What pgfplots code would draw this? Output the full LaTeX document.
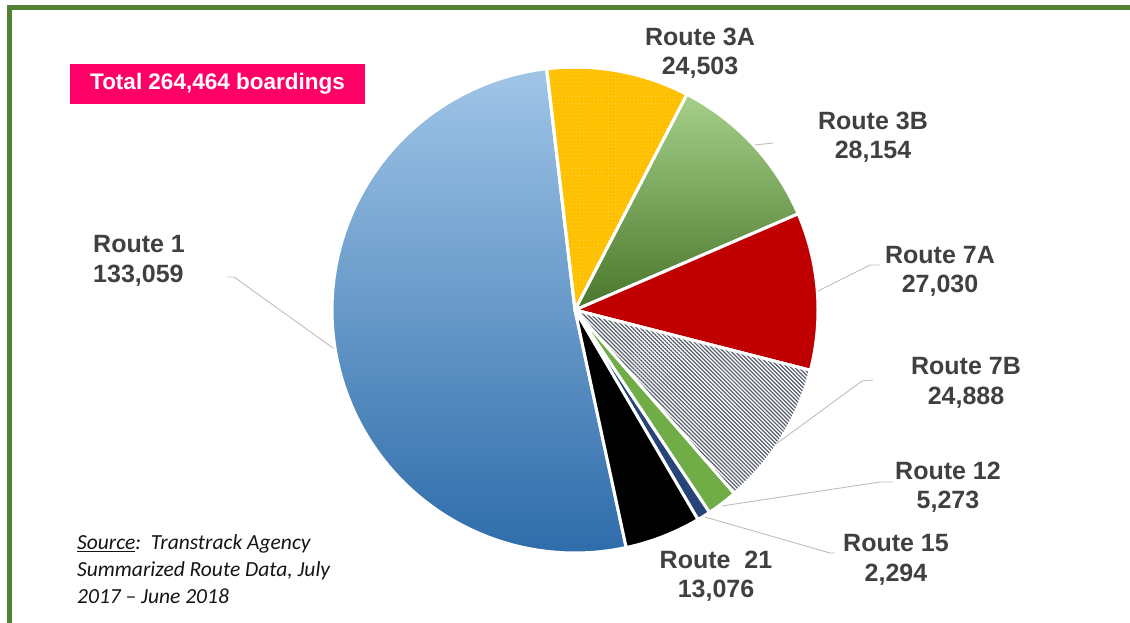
\documentclass[border=0pt]{standalone}
\usepackage{pgfplots}
\pgfplotsset{compat=1.18}
\usetikzlibrary{patterns,patterns.meta}
\usepackage{fontspec}
\setmainfont{Liberation Sans}
\newfontfamily\srcfont{Carlito}

\definecolor{frame}{RGB}{84,130,53}
\definecolor{boxpink}{RGB}{255,0,102}
\definecolor{lab}{RGB}{64,64,64}
\definecolor{bluetop}{RGB}{160,197,231}
\definecolor{bluemid}{RGB}{96,158,214}
\definecolor{bluebot}{RGB}{46,108,170}
\definecolor{greentop}{RGB}{166,208,138}
\definecolor{greenmid}{RGB}{116,175,74}
\definecolor{greenbot}{RGB}{72,118,42}
\definecolor{gold}{RGB}{255,192,0}
\definecolor{dotc}{RGB}{255,214,90}
\definecolor{redc}{RGB}{192,0,0}
\definecolor{green12}{RGB}{112,173,71}
\definecolor{navy}{RGB}{38,68,120}
\definecolor{hatch}{RGB}{84,92,106}
\definecolor{leader}{RGB}{190,190,190}

% boardings per route
\def\vOne{133059}
\def\vThreeA{24503}
\def\vThreeB{28154}
\def\vSevenA{27030}
\def\vSevenB{24888}
\def\vTwelve{5273}
\def\vFifteen{2294}
\def\vTwentyOne{13076}

\edef\tot{\fpeval{\vOne+\vThreeA+\vThreeB+\vSevenA+\vSevenB+\vTwelve+\vFifteen+\vTwentyOne}}
\def\aS{96.7}
\edef\aA{\fpeval{\aS-\vThreeA/\tot*360}}
\edef\aB{\fpeval{\aA-\vThreeB/\tot*360}}
\edef\aC{\fpeval{\aB-\vSevenA/\tot*360}}
\edef\aD{\fpeval{\aC-\vSevenB/\tot*360}}
\edef\aE{\fpeval{\aD-\vTwelve/\tot*360}}
\edef\aF{\fpeval{\aE-\vFifteen/\tot*360}}
\edef\aG{\fpeval{\aF-\vTwentyOne/\tot*360}}
\edef\aH{\fpeval{\aG+360}}

\newcommand\pieslice[3]{%
  \addplot[#3, domain=#1:#2, samples=90, variable=\t, draw=white,
    line width=3pt, line join=round]
    ({575+243*cos(\t)},{312+243*sin(\t)}) -- (axis cs:575,312) -- cycle;}

\newcommand\labfont{\fontsize{25}{29.5}\selectfont\bfseries}

\begin{document}
\begin{tikzpicture}
\clip (0,0) rectangle (1130pt,622pt);
\begin{axis}[
  at={(0,0)}, anchor=south west,
  width=1130pt, height=622pt, scale only axis,
  xmin=0, xmax=1130, ymin=0, ymax=622,
  hide axis, clip=false]

% frame
\addplot[frame, line width=5pt, no marks] coordinates {(9.5,-5) (9.5,614.5) (1135,614.5)};

% slices
\pieslice{\aS}{\aH}{top color=bluetop, middle color=bluemid, bottom color=bluebot}
\pieslice{\aA}{\aS}{fill=gold, postaction={pattern={Dots[distance=3.6pt, radius=0.55pt]}, pattern color=dotc}}
\pieslice{\aB}{\aA}{top color=greentop, middle color=greenmid, bottom color=greenbot}
\pieslice{\aC}{\aB}{fill=redc}
\pieslice{\aD}{\aC}{fill=white, postaction={pattern={Lines[angle=-45, distance=2.8pt, line width=1.2pt]}, pattern color=hatch}}
\pieslice{\aE}{\aD}{fill=green12}
\pieslice{\aF}{\aE}{fill=navy}
\pieslice{\aG}{\aF}{fill=black}

% leader lines
\addplot[leader, line width=0.9pt, no marks] coordinates {(227,345) (234,345) (333,274)};
\addplot[leader, line width=0.9pt, no marks] coordinates {(755,477) (773,479)};
\addplot[leader, line width=0.9pt, no marks] coordinates {(880,357) (870,357) (818,331)};
\addplot[leader, line width=0.9pt, no marks] coordinates {(873,242) (862,241) (776,178)};
\addplot[leader, line width=0.9pt, no marks] coordinates {(893,140) (880,140) (722,116)};
\addplot[leader, line width=0.9pt, no marks] coordinates {(835,69) (830,69) (705,105)};

% labels
\node[font=\labfont, text=lab, anchor=west, align=left, inner sep=0pt] at (axis cs:93,361) {Route 1\\133,059};
\node[font=\labfont, text=lab, align=center, inner sep=0pt] at (axis cs:700,569) {Route 3A\\24,503};
\node[font=\labfont, text=lab, align=center, inner sep=0pt] at (axis cs:873,485) {Route 3B\\28,154};
\node[font=\labfont, text=lab, align=center, inner sep=0pt] at (axis cs:940,350.5) {Route 7A\\27,030};
\node[font=\labfont, text=lab, align=center, inner sep=0pt] at (axis cs:966,239) {Route 7B\\24,888};
\node[font=\labfont, text=lab, align=center, inner sep=0pt] at (axis cs:948,135) {Route 12\\5,273};
\node[font=\labfont, text=lab, align=center, inner sep=0pt] at (axis cs:896,62) {Route 15\\2,294};
\node[font=\labfont, text=lab, align=center, inner sep=0pt] at (axis cs:716,46) {Route\ \ 21\\13,076};

% total box
\node[fill=boxpink, text=white, minimum width=295pt, minimum height=40pt, inner sep=0pt,
  font=\fontsize{22.5}{26}\selectfont\bfseries] at (axis cs:217.5,538) {Total 264,464 boardings};

% source
\node[anchor=west, align=left, inner sep=0pt, text={rgb,255:red,20;green,20;blue,20},
  font=\srcfont\itshape\fontsize{21.5}{27}\selectfont] at (axis cs:77,53)
  {\underline{Source}:\ \ Transtrack Agency\\Summarized Route Data, July\\2017 – June 2018};
\end{axis}
\end{tikzpicture}
\end{document}
